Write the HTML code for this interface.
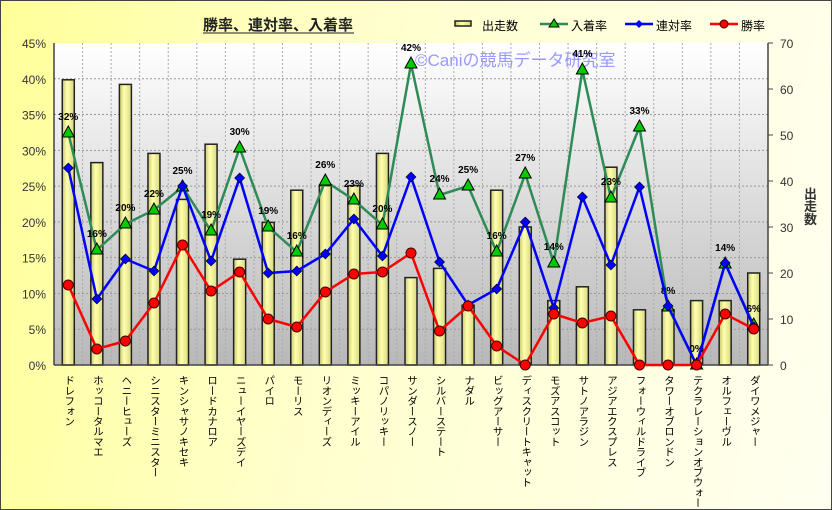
<!DOCTYPE html>
<html><head><meta charset="utf-8"><style>
html,body{margin:0;width:832px;height:510px;overflow:hidden;font-family:"Liberation Sans","Noto Sans CJK JP",sans-serif}
#wrap{position:absolute;left:0;top:0;width:830px;height:508px;border:1px solid #444;background:linear-gradient(100deg,#ffff99 0%,#ffffcc 40%,#fffff0 100%);overflow:hidden}
.xl{position:absolute;top:374px;writing-mode:vertical-rl;font-size:10.5px;letter-spacing:-0.3px;color:#000;line-height:12px;width:12px;white-space:nowrap}
</style></head><body><div id="wrap"></div>
<svg id="s" width="832" height="510" style="position:absolute;left:0;top:0" xmlns="http://www.w3.org/2000/svg"></svg>
<script>
const names=["ドレフォン","ホッコータルマエ","ヘニーヒューズ","シニスターミニスター","キンシャサノキセキ","ロードカナロア","ニューイヤーズデイ","パイロ","モーリス","リオンディーズ","ミッキーアイル","コパノリッキー","サンダースノー","シルバーステート","ナダル","ビッグアーサー","ディスクリートキャット","モズアスコット","サトノアラジン","アジアエクスプレス","フォーウィルドライブ","タワーオブロンドン","テクラレーションオブウォー","オルフェーヴル","ダイワメジャー"];
const bars=[62,44,61,46,36,48,23,31,38,39,39,46,19,21,13,38,30,14,17,43,12,12,14,14,20];
const G=[133,250,224,210,187,231,148,227,252,181,200,225,64,195,186,252,174,263,70,198,127,307,365,264,325];
const Gl=["32","16","20","22","25","19","30","19","16","26","23","20","42","24","25","16","27","14","41","23","33","8","0","14","6"];
const B=[168,299,259,271,186,261,178,273,271,254,219,256,177,262,305,289,222,308,197,265,187,306,365,263,327];
const R=[285,349,341,303,245,291,272,319,327,292,274,272,253,331,306,346,365,314,323,316,365,365,365,314,329];
const L=54,Rt=768,T=43,Bo=365,W=(Rt-L)/25;
let s='<defs><linearGradient id="pg" x1="0" y1="0" x2="0" y2="1"><stop offset="0" stop-color="#fff"/><stop offset="1" stop-color="#b8b8b8"/></linearGradient><linearGradient id="bg" x1="0" x2="1"><stop offset="0" stop-color="#c8c870"/><stop offset="0.4" stop-color="#ffffb0"/><stop offset="1" stop-color="#d8d880"/></linearGradient></defs>';
s+=`<rect x="${L}" y="${T}" width="${Rt-L}" height="${Bo-T}" fill="url(#pg)"/>`;
for(let i=1;i<9;i++){let y=T+i*(Bo-T)/9;s+=`<line x1="${L}" x2="${Rt}" y1="${y}" y2="${y}" stroke="#999" stroke-dasharray="2,2"/>`;}
for(let i=1;i<25;i++){let x=L+i*W;s+=`<line x1="${x}" x2="${x}" y1="${T}" y2="${Bo}" stroke="#aaa" stroke-dasharray="2,2"/>`;}
for(let i=0;i<=9;i++){let y=T+i*(Bo-T)/9;s+=`<text x="${L-8}" y="${y+5}" font-size="12" fill="#333" text-anchor="end">${(9-i)*5}%</text>`;}
for(let i=0;i<=7;i++){let y=Bo-i*(Bo-T)/7;s+=`<line x1="${Rt}" x2="${Rt+5}" y1="${y}" y2="${y}" stroke="#444"/><text x="${Rt+12}" y="${y+5}" font-size="12" fill="#333">${i*10}</text>`;}
const cx=i=>L+W*(i+0.5);
bars.forEach((v,i)=>{let h=v*(Bo-T)/70;s+=`<rect x="${cx(i)-6}" y="${Bo-h}" width="12" height="${h}" fill="url(#bg)" stroke="#222" stroke-width="1.5"/>`;});
s+=`<line x1="${L}" x2="${L}" y1="${T}" y2="${Bo}" stroke="#444" stroke-width="1.5"/><line x1="${Rt}" x2="${Rt}" y1="${T}" y2="${Bo}" stroke="#444" stroke-width="1.5"/><line x1="${L}" x2="${Rt}" y1="${Bo}" y2="${Bo}" stroke="#444" stroke-width="1.5"/>`;
s+=`<text x="415" y="66" font-size="17" fill="#9999ff">©Caniの競馬データ研究室</text>`;
const pl=(a,c)=>`<polyline fill="none" stroke="${c}" stroke-width="2.5" points="${a.map((y,i)=>cx(i)+','+y).join(' ')}"/>`;
s+=pl(G,"#2e8b57");G.forEach((y,i)=>{let x=cx(i);s+=`<polygon points="${x},${y-7} ${x-6},${y+4} ${x+6},${y+4}" fill="#00cc00" stroke="#000"/><text x="${x}" y="${y-13}" font-size="10" font-weight="bold" text-anchor="middle">${Gl[i]}%</text>`;});
s+=pl(B,"#0000ff");B.forEach((y,i)=>{let x=cx(i);s+=`<polygon points="${x},${y-5} ${x+5},${y} ${x},${y+5} ${x-5},${y}" fill="#0000ff" stroke="#000" stroke-width=".6"/>`;});
s+=pl(R,"#ff0000");R.forEach((y,i)=>{s+=`<circle cx="${cx(i)}" cy="${y}" r="5" fill="#ff0000" stroke="#400" />`;});
s+=`<text x="278" y="30" font-size="15" font-weight="bold" text-anchor="middle" fill="#222">勝率、連対率、入着率</text><line x1="203" x2="354" y1="33" y2="33" stroke="#222"/>`;
s+=`<rect x="455" y="21" width="16" height="5" fill="url(#bg)" stroke="#222" stroke-width="1.5"/><text x="482" y="30" font-size="12">出走数</text>`;
s+=`<line x1="540" x2="568" y1="24" y2="24" stroke="#2e8b57" stroke-width="2.5"/><polygon points="554,19 549,27 559,27" fill="#0c0" stroke="#000"/><text x="571" y="30" font-size="12">入着率</text>`;
s+=`<line x1="625" x2="653" y1="24" y2="24" stroke="#00f" stroke-width="2.5"/><polygon points="639,20 643,24 639,28 635,24" fill="#00f"/><text x="656" y="30" font-size="12">連対率</text>`;
s+=`<line x1="710" x2="738" y1="24" y2="24" stroke="#f00" stroke-width="2.5"/><circle cx="724" cy="24" r="4" fill="#f00" stroke="#400"/><text x="741" y="30" font-size="12">勝率</text>`;
document.getElementById('s').innerHTML=s;
let h='';names.forEach((n,i)=>{h+=`<div class="xl" style="left:${cx(i)-6}px">${n}</div>`;});
h+=`<div class="xl" style="left:801px;top:186px;font-size:13px;font-weight:bold;color:#333;width:14px;line-height:14px">出走数</div>`;
document.getElementById('wrap').innerHTML=h;
</script></body></html>
